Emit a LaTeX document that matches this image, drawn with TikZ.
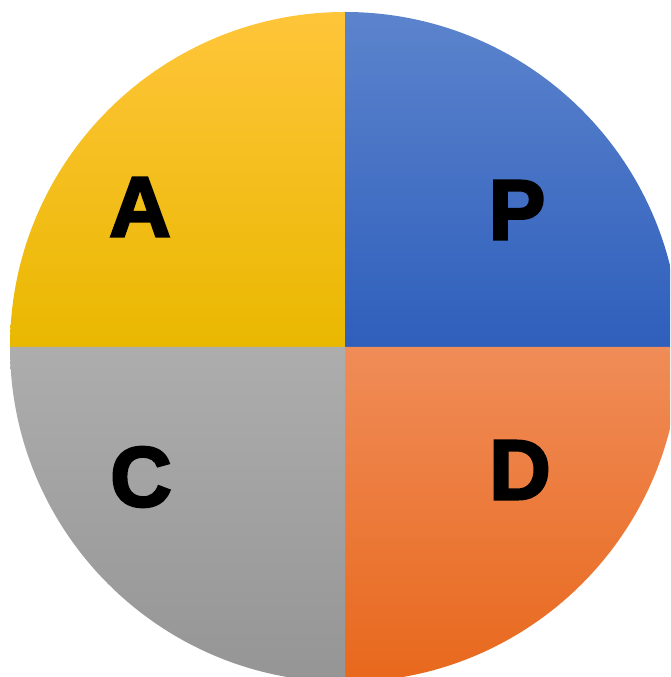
\documentclass[tikz,border=0pt]{standalone}
\usepackage{fontspec}
\usepackage{tikz}
\usepackage{xcolor}
\newfontfamily\pdcafont{Liberation Sans Bold}[FakeBold=3]
\definecolor{actTop}{HTML}{FFC53A}
\definecolor{actMid}{HTML}{FFC700}
\definecolor{actBot}{HTML}{E9B800}
\definecolor{planTop}{HTML}{5C84CD}
\definecolor{planBot}{HTML}{2F5FBC}
\definecolor{doTop}{HTML}{F08C58}
\definecolor{doBot}{HTML}{E8681C}
\definecolor{checkTop}{HTML}{ADADAD}
\definecolor{checkBot}{HTML}{959595}

\begin{document}
\begin{tikzpicture}[x=1pt, y=1pt,
    letter/.style={font=\pdcafont\fontsize{85}{85}\selectfont, text=black, inner sep=0pt}]
  % 1 unit = 1 px of the 670 x 677 picture
  \def\pdcar{335}
  \useasboundingbox (0,0) rectangle (670,677);
  \clip (0,0) rectangle (670,677);
  \coordinate (ctr) at (345,330);
  % four quarters of the cycle
  \shade[top color=actTop, middle color=actMid, bottom color=actBot]
    (ctr) -- ++(180:\pdcar) arc[start angle=180, end angle=90, radius=\pdcar] -- cycle;
  \shade[top color=planTop, bottom color=planBot]
    (ctr) -- ++(90:\pdcar) arc[start angle=90, end angle=0, radius=\pdcar] -- cycle;
  \shade[top color=doTop, bottom color=doBot]
    (ctr) -- ++(0:\pdcar) arc[start angle=0, end angle=-90, radius=\pdcar] -- cycle;
  \shade[top color=checkTop, bottom color=checkBot]
    (ctr) -- ++(-90:\pdcar) arc[start angle=-90, end angle=-180, radius=\pdcar] -- cycle;
  % letters
  \node[letter] (act) at (140,470) {A};
  \node[letter] (plan) at (517,467) {P};
  \node[letter] (check) at (141,200) {C};
  \node[letter] (do) at (520,207) {D};
\end{tikzpicture}
\end{document}
